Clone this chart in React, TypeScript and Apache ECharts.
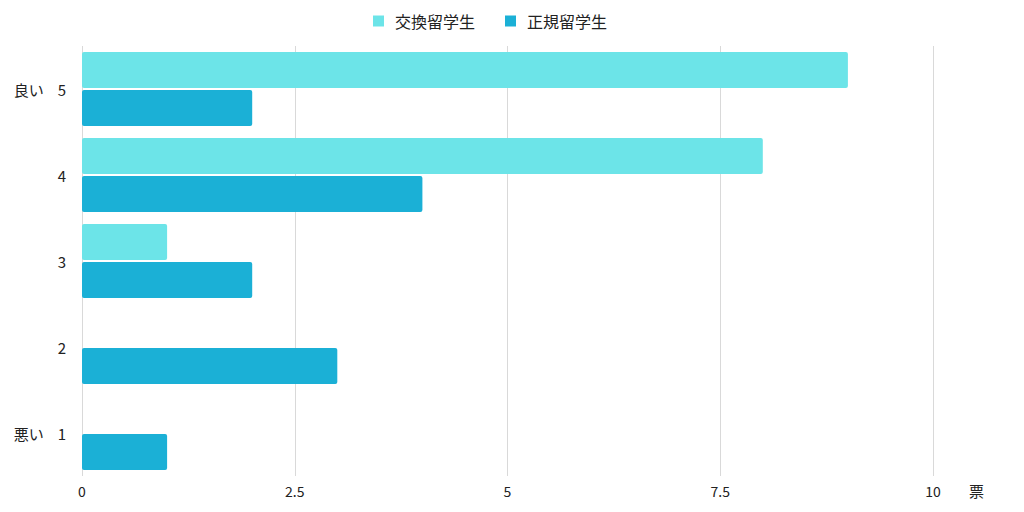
import React, { useEffect, useRef } from 'react';
import * as echarts from 'echarts';

const categories = ['5', '4', '3', '2', '1'];
const sideNotes: Record<string, string> = { '5': '良い', '1': '悪い' };
const exchangeValues = [9, 8, 1, 0, 0];
const regularValues = [2, 4, 2, 3, 1];
const seriesNames = ['交換留学生', '正規留学生'];
const xTicks = [0, 2.5, 5, 7.5, 10];

const FONT = '"Noto Sans CJK JP", "Noto Sans", sans-serif';

const App: React.FC = () => {
  const chartRef = useRef<HTMLDivElement>(null);

  useEffect(() => {
    if (!chartRef.current) return;
    const chart = echarts.init(chartRef.current, undefined, { renderer: 'svg' });

    const option = {
      animation: false,
      textStyle: { fontFamily: FONT },
      legend: {
        top: 0,
        left: 360,
        itemWidth: 11,
        itemHeight: 11,
        itemGap: 30,
        icon: 'rect',
        textStyle: { color: '#222', fontSize: 16, fontFamily: FONT, padding: [0, 0, 0, 6] },
        data: seriesNames,
      },
      grid: { left: 74, right: 83, top: 38, bottom: 28 },
      xAxis: {
        type: 'value',
        min: xTicks[0],
        max: xTicks[xTicks.length - 1],
        interval: 2.5,
        name: '票',
        nameLocation: 'end',
        nameGap: 36,
        nameTextStyle: { color: '#222', fontSize: 15, verticalAlign: 'top', padding: [7, 0, 0, 0] },
        axisLine: { show: false },
        axisTick: { show: false },
        axisLabel: { color: '#222', fontSize: 14, margin: 8 },
        splitLine: { show: true, lineStyle: { color: '#d9d9d9', width: 1 } },
      },
      yAxis: {
        type: 'category',
        inverse: true,
        data: categories,
        axisLine: { show: false },
        axisTick: { show: false },
        axisLabel: {
          color: '#222',
          fontSize: 15,
          margin: 16,
          formatter: (v: string) => (sideNotes[v] ? `{note|${sideNotes[v]}}${v}` : v),
          rich: {
            note: { fontSize: 15, color: '#222', padding: [0, 14, 0, 0], fontFamily: FONT },
          },
        },
        splitLine: { show: false },
      },
      series: [
        {
          name: seriesNames[0],
          type: 'bar',
          data: exchangeValues,
          barWidth: 36,
          barGap: '6%',
          itemStyle: { color: '#6ce4e8', borderRadius: 2 },
        },
        {
          name: seriesNames[1],
          type: 'bar',
          data: regularValues,
          barWidth: 36,
          barGap: '6%',
          itemStyle: { color: '#1bb0d6', borderRadius: 2 },
        },
      ],
    };

    chart.setOption(option);
    return () => {
      chart.dispose();
    };
  }, []);

  return <div ref={chartRef} style={{ width: 1008, height: 496 }} />;
};

export default App;
